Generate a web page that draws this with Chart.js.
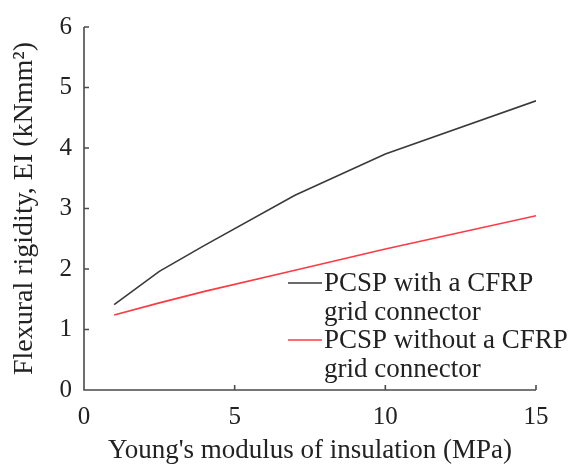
<!DOCTYPE html>
<html>
<head>
<meta charset="utf-8">
<script src="https://cdn.jsdelivr.net/npm/chart.js@4"></script>
<style>
  html, body { margin: 0; padding: 0; background: #fff; }
  #wrap { width: 582px; height: 467px; position: relative; }
</style>
</head>
<body>
<div id="wrap"><canvas id="chart" width="582" height="467"></canvas></div>
<script>
// values
const modulus = [1, 2.5, 4, 7, 10, 15];
const withConnector = [1.41, 1.96, 2.39, 3.22, 3.90, 4.78];
const withoutConnector = [1.24, 1.44, 1.63, 1.98, 2.33, 2.88];
const xTicks = [0, 5, 10, 15];
const yTicks = [0, 1, 2, 3, 4, 5, 6];

const seriesLabels = [
    ['PCSP with a CFRP', 'grid connector'],
    ['PCSP without a CFRP', 'grid connector'],
];
const seriesColors = ['#3a3a3a', '#ff3a44'];

const FONT = "'Liberation Serif', 'Times New Roman', serif";
const TICK_SIZE = 25;
const TITLE_SIZE = 27;
const AXIS_COLOR = '#4a4a4a';

// inward ticks + axis lines
const axisPlugin = {
    id: 'axisTicks',
    afterDraw(chart) {
        const { ctx, chartArea: a, scales: { x, y } } = chart;
        ctx.save();
        ctx.strokeStyle = AXIS_COLOR;
        ctx.lineWidth = 1.6;
        ctx.beginPath();
        ctx.moveTo(a.left, a.top);
        ctx.lineTo(a.left, a.bottom);
        ctx.lineTo(a.right, a.bottom);
        xTicks.forEach(v => {
            const px = x.getPixelForValue(v);
            ctx.moveTo(px, a.bottom);
            ctx.lineTo(px, a.bottom - 5);
        });
        yTicks.forEach(v => {
            const py = y.getPixelForValue(v);
            ctx.moveTo(a.left, py);
            ctx.lineTo(a.left + 5, py);
        });
        ctx.stroke();
        ctx.restore();
    }
};

// two-line legend entries in the lower right
const legendPlugin = {
    id: 'twoLineLegend',
    afterDraw(chart) {
        const { ctx } = chart;
        ctx.save();
        ctx.font = `${TITLE_SIZE}px ${FONT}`;
        ctx.textBaseline = 'middle';
        ctx.fillStyle = '#222';
        const x0 = 288, lineLen = 34, rowGap = 28.5;
        seriesLabels.forEach((lines, i) => {
            const top = 283 + i * 2 * rowGap;
            ctx.strokeStyle = seriesColors[i];
            ctx.lineWidth = 1.6;
            ctx.beginPath();
            ctx.moveTo(x0, top);
            ctx.lineTo(x0 + lineLen, top);
            ctx.stroke();
            lines.forEach((t, j) => ctx.fillText(t, x0 + lineLen + 2, top + 1 + j * rowGap));
        });
        ctx.restore();
    }
};

new Chart(document.getElementById('chart'), {
    type: 'line',
    data: {
        datasets: [
            {
                label: 'PCSP with a CFRP grid connector',
                data: modulus.map((m, i) => ({ x: m, y: withConnector[i] })),
                borderColor: seriesColors[0], borderWidth: 1.6,
                pointRadius: 0, tension: 0, fill: false,
            },
            {
                label: 'PCSP without a CFRP grid connector',
                data: modulus.map((m, i) => ({ x: m, y: withoutConnector[i] })),
                borderColor: seriesColors[1], borderWidth: 1.6,
                pointRadius: 0, tension: 0, fill: false,
            },
        ],
    },
    options: {
        responsive: false, animation: false,
        layout: { padding: { left: 8, top: 18, right: 46, bottom: 0 } },
        plugins: { legend: { display: false }, tooltip: { enabled: false } },
        scales: {
            x: {
                type: 'linear', min: 0, max: 15,
                afterBuildTicks: s => { s.ticks = xTicks.map(v => ({ value: v })); },
                afterFit: s => { s.height = 77; },
                grid: { display: false, drawTicks: false },
                border: { display: false },
                ticks: { color: '#222', font: { family: FONT, size: TICK_SIZE }, padding: 12, maxRotation: 0 },
                title: { display: true, text: "Young's modulus of insulation (MPa)", color: '#222',
                         font: { family: FONT, size: TITLE_SIZE }, padding: { top: 4, bottom: 0 } },
            },
            y: {
                type: 'linear', min: 0, max: 6,
                afterBuildTicks: s => { s.ticks = yTicks.map(v => ({ value: v })); },
                afterFit: s => { s.width = 76; },
                grid: { display: false, drawTicks: false },
                border: { display: false },
                ticks: { color: '#222', font: { family: FONT, size: TICK_SIZE }, padding: 12 },
                title: { display: true, text: 'Flexural rigidity, EI (kNmm\u00B2)', color: '#222',
                         font: { family: FONT, size: 28 }, padding: { top: 0, bottom: 0 } },
            },
        },
    },
    plugins: [axisPlugin, legendPlugin],
});
</script>
</body>
</html>
